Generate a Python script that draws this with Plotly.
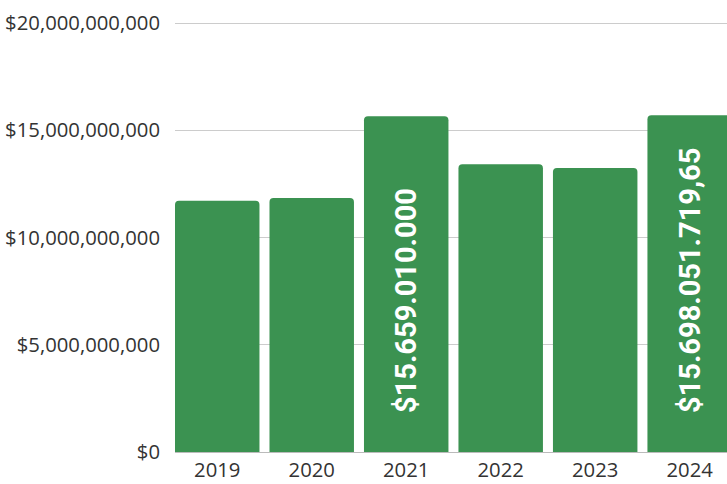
import plotly.graph_objects as go

years = ["2019", "2020", "2021", "2022", "2023", "2024"]
values = [11.71e9, 11.84e9, 15.659010000e9, 13.42e9, 13.24e9, 15.69805171965e9]
bar_labels = ["", "", "$15.659.010.000", "", "", "$15.698.051.719,65"]
y_ticks = [0, 5e9, 10e9, 15e9, 20e9]

bar_color = "#3b9251"
pad = "\u00a0" * 5

fig = go.Figure()
fig.add_trace(go.Bar(
    x=years, y=values,
    text=[(pad + t) if t else "" for t in bar_labels],
    textposition="inside", insidetextanchor="start", textangle=-90,
    constraintext="none",
    texttemplate="<b>%{text}</b>",
    textfont=dict(family="Roboto", size=29, color="white"),
    marker=dict(color=bar_color, cornerradius=4, line=dict(width=0)),
    hoverinfo="skip",
))

fig.update_layout(
    width=727, height=484,
    margin=dict(l=175, r=0, t=22, b=32),
    plot_bgcolor="white", paper_bgcolor="white",
    bargap=0.106,
    showlegend=False,
    font=dict(family="Open Sans", size=20.3, color="#333333"),
)
fig.update_xaxes(
    type="category", range=[-0.447, 5.395],
    showgrid=False, showline=False, ticks="", ticklabelstandoff=4,
    tickfont=dict(size=20.3, color="#333333"),
)
fig.update_yaxes(
    range=[0, 20.05e9], tickvals=y_ticks, tickformat="$,.0f",
    showgrid=True, gridcolor="#cccccc", gridwidth=1,
    zeroline=True, zerolinecolor="#bbbbbb", zerolinewidth=1,
    showline=False, ticks="", ticklabelstandoff=14,
    tickfont=dict(size=20.3, color="#333333"),
)

fig.write_html(
    "out.html",
    config={"displayModeBar": False},
    post_script="document.body.style.margin='0';document.body.style.overflow='hidden';",
)
